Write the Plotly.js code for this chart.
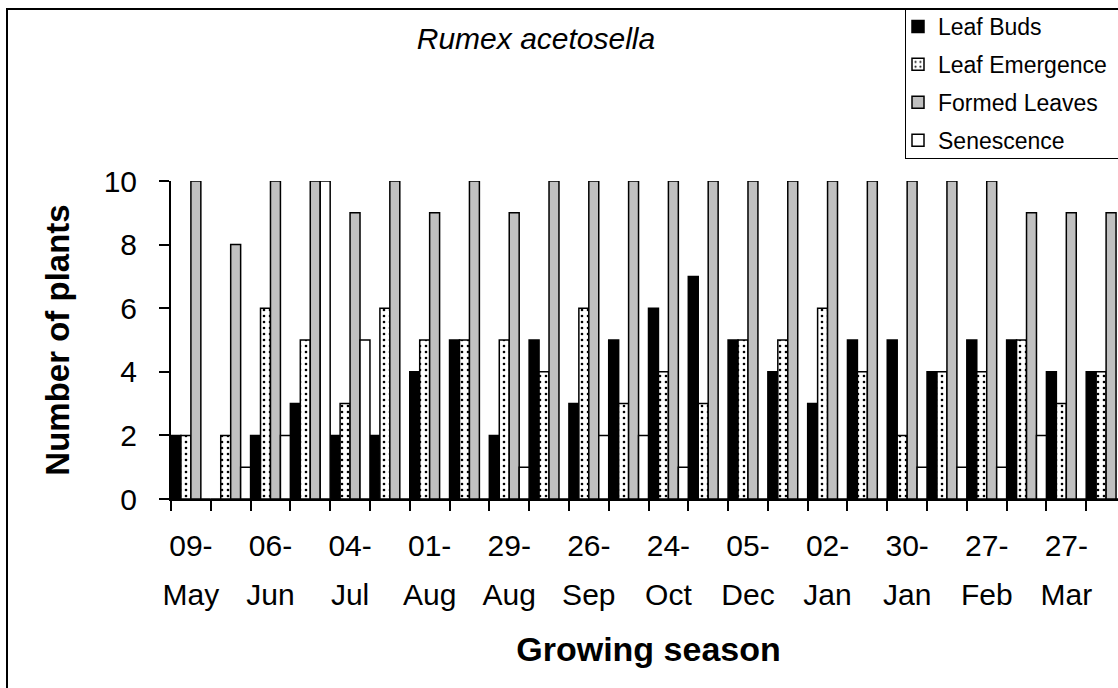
<!DOCTYPE html>
<html>
<head>
<meta charset="utf-8">
<script src="https://cdn.plot.ly/plotly-3.0.1.min.js"></script>
<style>
  html, body { margin: 0; padding: 0; overflow: hidden; background: #fff; }
  #wrap { position: relative; width: 1118px; height: 688px; overflow: hidden; }
  #chart { position: absolute; left: 0; top: 0; width: 1140px; height: 688px; }
  #frame { position: absolute; left: 6px; top: 8px; width: 1300px; height: 900px;
           border: 2px solid #000; pointer-events: none; }
  #legbox { position: absolute; left: 905px; top: 8px; width: 400px; height: 150px;
            border-left: 1.5px solid #000; border-bottom: 1.5px solid #000; pointer-events: none; }
</style>
</head>
<body>
<div id="wrap">
  <div id="chart"></div>
  <div id="legbox"></div>
  <div id="frame"></div>
</div>
<script>
// Data (24 sampling dates, every other one labelled)
const dayLabels   = ['09-','06-','04-','01-','29-','26-','24-','05-','02-','30-','27-','27-'];
const monthLabels = ['May','Jun','Jul','Aug','Aug','Sep','Oct','Dec','Jan','Jan','Feb','Mar'];
const leafBuds       = [2,0,2,3,2,2,4,5,2,5,3,5,6,7,5,4,3,5,5,4,5,5,4,4];
const leafEmergence  = [2,2,6,5,3,6,5,5,5,4,6,3,4,3,5,5,6,4,2,4,4,5,3,4];
const formedLeaves   = [10,8,10,10,9,10,9,10,9,10,10,10,10,10,10,10,10,10,10,10,10,9,9,9];
const senescence     = [0,1,2,10,5,0,0,0,1,0,2,2,1,0,0,0,0,0,1,1,1,2,0,0];

const idx = leafBuds.map((_, i) => i);
const labelPos = dayLabels.map((_, i) => i * 2);
const FONT = 'Arial, "Liberation Sans", sans-serif';
const outline = { color: '#000', width: 1.5 };
const BW = 0.25;

const traces = [
  { type: 'bar', name: 'Leaf Buds', x: idx, y: leafBuds, legendgroup: 'a',
    width: BW, offset: -0.5, xaxis: 'x', yaxis: 'y',
    marker: { color: '#000000', line: outline }, cliponaxis: false },
  { type: 'bar', name: 'Leaf Emergence', x: idx, y: leafEmergence, legendgroup: 'b',
    width: BW, offset: -0.25, xaxis: 'x', yaxis: 'y',
    marker: { color: '#ffffff', line: outline,
              pattern: { shape: '.', fgcolor: '#000', bgcolor: '#ffffff', size: 6, solidity: 0.15 } },
    cliponaxis: false },
  { type: 'bar', name: 'Formed Leaves', x: idx, y: formedLeaves, legendgroup: 'c',
    width: BW, offset: 0, xaxis: 'x', yaxis: 'y',
    marker: { color: '#c0c0c0', line: outline }, cliponaxis: false },
  { type: 'bar', name: 'Senescence', x: idx, y: senescence, legendgroup: 'd',
    width: BW, offset: 0.25, xaxis: 'x2', yaxis: 'y',
    marker: { color: '#ffffff', line: outline }, cliponaxis: false }
];

const W = 1140, H = 688;
const L = 171, R = 14, T = 181, B = 189;

const layout = {
  width: W, height: H,
  margin: { l: L, r: R, t: T, b: B, autoexpand: false },
  paper_bgcolor: '#ffffff', plot_bgcolor: '#ffffff',
  font: { family: FONT, color: '#000' },
  barmode: 'overlay',
  showlegend: true,
  title: {
    text: '<i>Rumex acetosella</i>',
    font: { family: FONT, size: 30, color: '#000' },
    xref: 'container', x: 536 / W, xanchor: 'center',
    yref: 'container', y: 1 - 38 / H, yanchor: 'middle'
  },
  xaxis: {
    type: 'linear', range: [-0.5, 23.5], fixedrange: true,
    showline: true, linecolor: '#000', linewidth: 2,
    showgrid: false, zeroline: false,
    tickmode: 'array', tickvals: labelPos, ticktext: dayLabels,
    ticks: '', ticklabelstandoff: 19,
    tickfont: { family: FONT, size: 30, color: '#000' },
    minor: { tickmode: 'linear', tick0: -0.5, dtick: 1, ticks: 'outside',
             ticklen: 10, tickwidth: 2, tickcolor: '#000', showgrid: false }
  },
  xaxis2: {
    type: 'linear', range: [-0.5, 23.5], fixedrange: true,
    overlaying: 'x', anchor: 'y', side: 'bottom',
    showline: false, showgrid: false, zeroline: false,
    tickmode: 'array', tickvals: labelPos, ticktext: monthLabels,
    ticks: '', ticklabelstandoff: 75,
    tickfont: { family: FONT, size: 30, color: '#000' },
    title: { text: '<b>Growing season</b>', font: { family: FONT, size: 34, color: '#000' }, standoff: 27 }
  },
  yaxis: {
    range: [0, 10], fixedrange: true,
    showline: true, linecolor: '#000', linewidth: 2,
    showgrid: false, zeroline: false,
    tickmode: 'linear', tick0: 0, dtick: 2,
    ticks: 'outside', ticklen: 10, tickwidth: 2, tickcolor: '#000',
    ticklabelstandoff: 16,
    tickfont: { family: FONT, size: 30, color: '#000' },
    title: { text: '<b>Number of plants</b>', font: { family: FONT, size: 33, color: '#000' }, standoff: 24 }
  },
  legend: {
    xref: 'container', yref: 'container',
    x: 898 / W, y: 1 - 5 / H, xanchor: 'left', yanchor: 'top',
    bgcolor: '#ffffff', borderwidth: 0,
    font: { family: FONT, size: 23, color: '#000' },
    tracegroupgap: 5, traceorder: 'grouped'
  }
};

Plotly.newPlot('chart', traces, layout, { staticPlot: true, displayModeBar: false });
</script>
</body>
</html>
